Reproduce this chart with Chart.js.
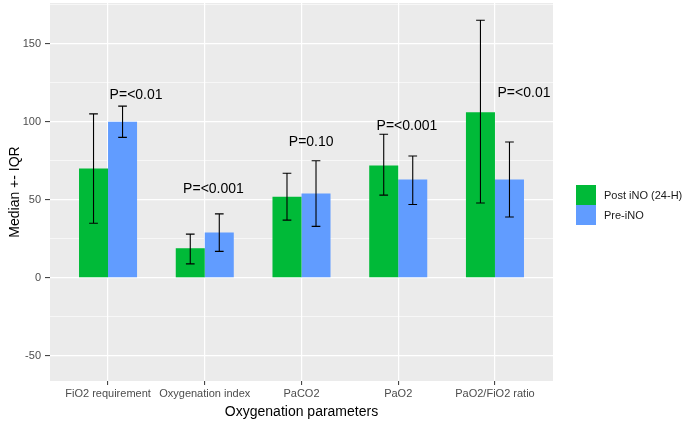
<!DOCTYPE html>
<html>
<head>
<meta charset="utf-8">
<script src="https://cdn.jsdelivr.net/npm/chart.js@4/dist/chart.umd.min.js"></script>
<style>html,body{margin:0;padding:0;background:#fff;}canvas{display:block;}</style>
</head>
<body>
<canvas id="c" width="685" height="424"></canvas>
<script>
const categories = ['FiO2 requirement', 'Oxygenation index', 'PaCO2', 'PaO2', 'PaO2/FiO2 ratio'];
const seriesNames = ['Post iNO (24-H)', 'Pre-iNO'];
const postMedian = [70, 19, 52, 72, 106];
const postLow = [35, 9, 37, 53, 48];
const postHigh = [105, 28, 67, 92, 165];
const preMedian = [100, 29, 54, 63, 63];
const preLow = [90, 17, 33, 47, 39];
const preHigh = [110, 41, 75, 78, 87];
const pLabels = ['P=<0.01', 'P=<0.001', 'P=0.10', 'P=<0.001', 'P=<0.01'];
const pLabelY = [117, 57, 87, 97, 118];
const pLabelShift = [0.29, 0.09, 0.10, 0.09, 0.30];
const yTickValues = [-50, -25, 0, 25, 50, 75, 100, 125, 150, 175];
const yLabelValues = [-50, 0, 50, 100, 150];

const colors = ['#00BA38', '#619CFF'];
const lows = [postLow, preLow];
const highs = [postHigh, preHigh];

Chart.defaults.font.family = '"Liberation Sans", Arial, sans-serif';

const panelBg = {
  id: 'panelBg',
  beforeDraw(chart) {
    const {ctx, chartArea: a} = chart;
    ctx.save();
    ctx.fillStyle = '#EBEBEB';
    ctx.fillRect(a.left, a.top, a.right - a.left, a.bottom - a.top);
    ctx.restore();
  }
};

const errorBars = {
  id: 'errorBars',
  afterDatasetsDraw(chart) {
    const {ctx, scales: {x, y}} = chart;
    const half = x.getPixelForValue(0.045) - x.getPixelForValue(0);
    ctx.save();
    ctx.strokeStyle = '#000';
    ctx.lineWidth = 1.1;
    chart.data.datasets.forEach((ds, di) => {
      const meta = chart.getDatasetMeta(di);
      meta.data.forEach((bar, i) => {
        const cx = bar.x;
        const yl = y.getPixelForValue(lows[di][i]);
        const yh = y.getPixelForValue(highs[di][i]);
        ctx.beginPath();
        ctx.moveTo(cx, yl); ctx.lineTo(cx, yh);
        ctx.moveTo(cx - half, yl); ctx.lineTo(cx + half, yl);
        ctx.moveTo(cx - half, yh); ctx.lineTo(cx + half, yh);
        ctx.stroke();
      });
    });
    ctx.restore();
  }
};

const annotations = {
  id: 'annotations',
  afterDatasetsDraw(chart) {
    const {ctx, scales: {x, y}} = chart;
    ctx.save();
    ctx.fillStyle = '#000';
    ctx.font = '14px "Liberation Sans", Arial, sans-serif';
    ctx.textAlign = 'center';
    ctx.textBaseline = 'middle';
    pLabels.forEach((t, i) => {
      ctx.fillText(t, x.getPixelForValue(i + pLabelShift[i]), y.getPixelForValue(pLabelY[i]));
    });
    ctx.restore();
  }
};

const legendBox = {
  id: 'legendBox',
  afterDraw(chart) {
    const {ctx} = chart;
    const size = 20, x0 = 576, y0 = 185;
    ctx.save();
    ctx.font = '11px "Liberation Sans", Arial, sans-serif';
    ctx.textBaseline = 'middle';
    ctx.textAlign = 'left';
    chart.data.datasets.forEach((ds, i) => {
      const yy = y0 + i * size;
      ctx.fillStyle = ds.backgroundColor;
      ctx.fillRect(x0, yy, size, size);
      ctx.fillStyle = '#1A1A1A';
      ctx.fillText(ds.label, x0 + size + 8, yy + size / 2 + 0.5);
    });
    ctx.restore();
  }
};

const datasets = [postMedian, preMedian].map((vals, di) => ({
  label: seriesNames[di],
  data: vals.map((v, i) => ({x: i, y: v})),
  backgroundColor: colors[di],
  borderWidth: 0,
  categoryPercentage: 0.6,
  barPercentage: 1.0
}));

new Chart(document.getElementById('c'), {
  type: 'bar',
  data: {datasets},
  plugins: [panelBg, errorBars, annotations, legendBox],
  options: {
    responsive: false,
    animation: false,
    layout: {padding: {top: 3, right: 132, left: 0, bottom: 0}},
    plugins: {legend: {display: false}, tooltip: {enabled: false}},
    scales: {
      x: {
        type: 'linear',
        min: -0.6,
        max: 4.6,
        offset: false,
        afterBuildTicks(s) { s.ticks = categories.map((c, i) => ({value: i})); },
        afterFit(s) { s.height = 43; s.paddingLeft = 0; s.paddingRight = 0; },
        ticks: {
          autoSkip: false, maxRotation: 0, padding: 2,
          color: '#4D4D4D', font: {size: 11},
          callback: (v) => categories[v]
        },
        grid: {color: '#FFFFFF', lineWidth: 1.2, offset: false, tickLength: 4, tickColor: '#333333', tickWidth: 1},
        border: {display: false},
        title: {display: true, text: 'Oxygenation parameters', color: '#000', font: {size: 14}, padding: {top: 0, bottom: 3}}
      },
      y: {
        min: -66,
        max: 176,
        afterBuildTicks(s) { s.ticks = yTickValues.map(v => ({value: v})); },
        afterFit(s) { s.width = 50; s.paddingTop = 0; s.paddingBottom = 0; },
        ticks: {
          color: '#4D4D4D', font: {size: 11}, padding: 4,
          callback: (v) => yLabelValues.includes(v) ? String(v) : ''
        },
        grid: {
          color: '#FFFFFF',
          lineWidth: (c) => (c.tick && yLabelValues.includes(c.tick.value)) ? 1.2 : 0.6,
          tickLength: 5,
          tickColor: (c) => (c.tick && yLabelValues.includes(c.tick.value)) ? '#333333' : 'rgba(0,0,0,0)',
          tickWidth: 1
        },
        border: {display: false},
        title: {display: true, text: 'Median +- IQR', color: '#000', font: {size: 14}, padding: {top: 7, bottom: 0}}
      }
    }
  }
});
</script>
</body>
</html>
